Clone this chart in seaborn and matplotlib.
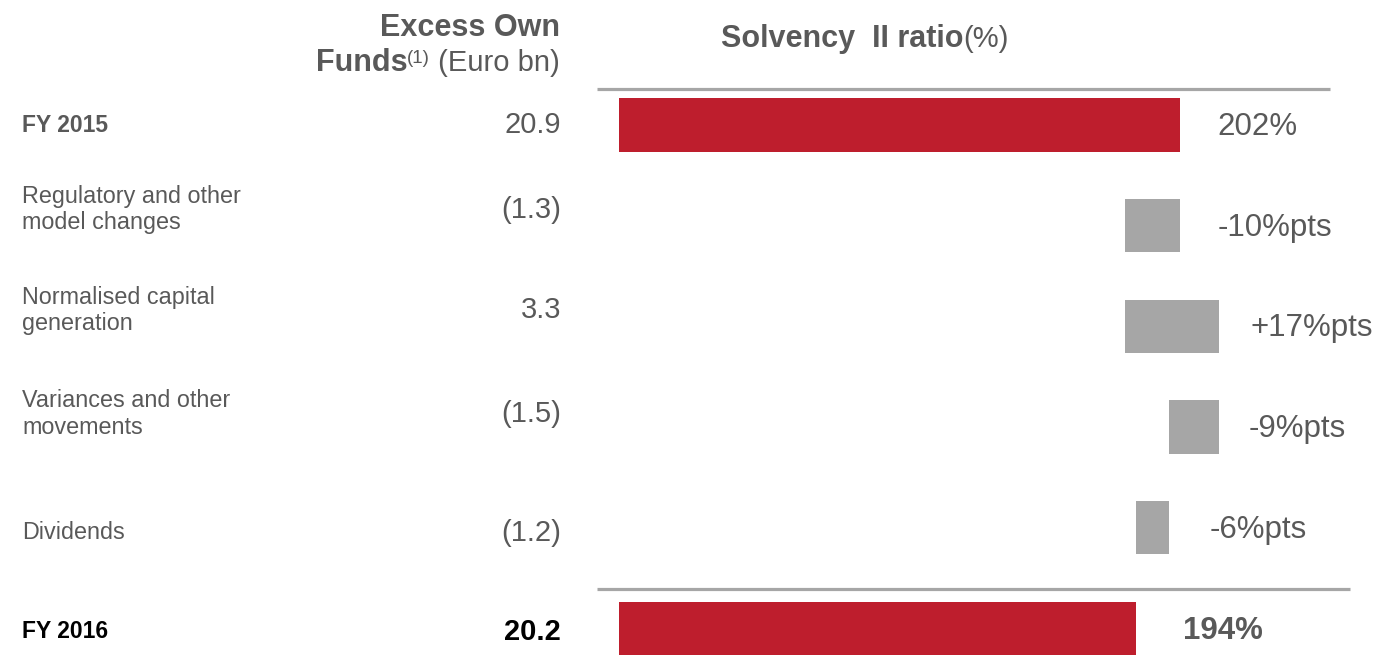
import matplotlib
matplotlib.use("Agg")
import matplotlib.pyplot as plt
import matplotlib.transforms as mtransforms
import numpy as np
import pandas as pd
import seaborn as sns

# ---------------- data ----------------
categories = [
    "FY 2015",
    "Regulatory and other\nmodel changes",
    "Normalised capital\ngeneration",
    "Variances and other\nmovements",
    "Dividends",
    "FY 2016",
]
excess_own_funds = ["20.9", "(1.3)", "3.3", "(1.5)", "(1.2)", "20.2"]
ratio_start = 202          # FY 2015 Solvency II ratio (%)
ratio_changes = [-10, 17, -9, -6]   # movements (%pts)
ratio_end = 194            # FY 2016 Solvency II ratio (%)
axis_base = 100            # bars are drawn from this level

# ---------------- styling ----------------
sns.set_theme(style="white")
plt.rcParams["font.family"] = ["Liberation Sans", "DejaVu Sans"]

RED = "#BE1E2D"
GREY_BAR = "#A6A6A6"
LINE = "#A6A6A6"
TXT = "#595959"

W, H = 1379, 667
fig = plt.figure(figsize=(W / 100, H / 100), dpi=100)
ax = fig.add_axes([0, 0, 1, 1])

# pixel geometry of the plotting scale
px_per_pt = 5.5
px_origin = 69.0
row0_px = 125.0
row_px = 100.7

# ---------------- waterfall computations ----------------
levels = [ratio_start]
for c in ratio_changes:
    levels.append(levels[-1] + c)
change_left = [min(levels[i], levels[i + 1]) for i in range(len(ratio_changes))]
change_width = [abs(c) for c in ratio_changes]
change_right = [max(levels[i], levels[i + 1]) for i in range(len(ratio_changes))]

totals_df = pd.DataFrame({
    "cat": [categories[0], categories[-1]],
    "width": [ratio_start - axis_base, ratio_end - axis_base],
})
changes_df = pd.DataFrame({
    "cat": categories[1:-1],
    "width": change_width,
})

bar_h = 0.53
sns.barplot(data=totals_df, y="cat", x="width", order=categories, orient="h",
            color=RED, width=bar_h, errorbar=None, left=axis_base,
            linewidth=0, saturation=1, ax=ax)
sns.barplot(data=changes_df, y="cat", x="width", order=categories, orient="h",
            color=GREY_BAR, width=bar_h, errorbar=None,
            left=np.array(change_left, dtype=float),
            linewidth=0, saturation=1, ax=ax)

ax.set_xlim(-px_origin / px_per_pt, (W - px_origin) / px_per_pt)
ax.set_ylim((H - row0_px) / row_px, -row0_px / row_px)
ax.axis("off")

# separator lines
ax.axhline((89 - row0_px) / row_px, xmin=597 / W, xmax=1330 / W,
           color=LINE, lw=2.3, solid_capstyle="butt")
ax.axhline((588.5 - row0_px) / row_px, xmin=597 / W, xmax=1350 / W,
           color=LINE, lw=2.3, solid_capstyle="butt")

# ---------------- row labels ----------------
blend = mtransforms.blended_transform_factory(ax.transAxes, ax.transData)
label_dy_px = [0, -16, -16, -13, 5, 3]
n = len(categories)
for i, (cat, val) in enumerate(zip(categories, excess_own_funds)):
    y = i + label_dy_px[i] / row_px
    is_total = i in (0, n - 1)
    last = i == n - 1
    ax.text(22 / W, y, cat, transform=blend, ha="left", va="center",
            fontsize=16.5 if is_total else 16.8,
            fontweight="bold" if is_total else "normal",
            color="black" if last else TXT, linespacing=1.2)
    ax.text(561 / W, y, val, transform=blend, ha="right", va="center",
            fontsize=21, fontweight="bold" if last else "normal",
            color="black" if last else TXT)

# ---------------- value labels on bars ----------------
pct_labels = [f"{ratio_start}%"] + [f"{c:+d}%pts" for c in ratio_changes] + [f"{ratio_end}%"]
bar_right = [ratio_start] + change_right + [ratio_end]
label_dx_px = [37, 38, 32, 30, 41, 47]
for i, (txt, xr) in enumerate(zip(pct_labels, bar_right)):
    ax.annotate(txt, xy=(xr, i), xytext=(label_dx_px[i] * 0.72, -1.5),
                textcoords="offset points", ha="left", va="center",
                fontsize=22.5, color=TXT,
                fontweight="bold" if i == n - 1 else "normal")

# ---------------- headers ----------------
fig.canvas.draw()
renderer = fig.canvas.get_renderer()

def fx(px):
    return px / W

def fy(px):
    return 1 - px / H

fig.text(fx(560), fy(36), "Excess Own", ha="right", va="baseline",
         fontsize=22, fontweight="bold", color=TXT)
t1 = fig.text(fx(560), fy(71), " (Euro bn)", ha="right", va="baseline",
              fontsize=21, color=TXT)
bb = t1.get_window_extent(renderer)
t2 = fig.text(bb.x0 / W, fy(63), "(1)", ha="right", va="baseline",
              fontsize=13.5, color=TXT)
bb2 = t2.get_window_extent(renderer)
fig.text(bb2.x0 / W, fy(71), "Funds", ha="right", va="baseline",
         fontsize=22, fontweight="bold", color=TXT)

t3 = fig.text(fx(721), fy(47), "Solvency  II ratio", ha="left", va="baseline",
              fontsize=22, fontweight="bold", color=TXT)
bb3 = t3.get_window_extent(renderer)
fig.text(bb3.x1 / W, fy(47), "(%)", ha="left", va="baseline",
         fontsize=21, color=TXT)

fig.savefig("out.png", dpi=100)
